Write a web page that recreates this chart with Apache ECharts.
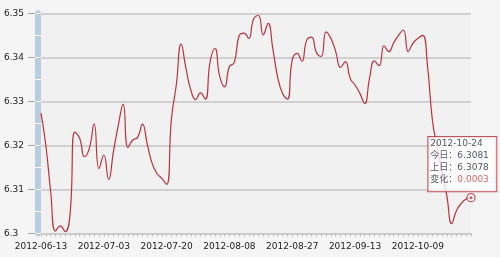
<!DOCTYPE html>
<html><head><meta charset="utf-8">
<script src="https://cdn.jsdelivr.net/npm/echarts/dist/echarts.min.js"></script>
<style>html,body{margin:0;padding:0;background:#f5f5f5}#c{width:500px;height:257px}</style>
</head><body><div id="c"></div>
<script>
const dates = [
'2012-06-13','2012-06-14','2012-06-15','2012-06-18','2012-06-19','2012-06-20','2012-06-21','2012-06-25','2012-06-26','2012-06-27',
'2012-06-28','2012-06-29','2012-07-02','2012-07-03','2012-07-04','2012-07-05','2012-07-06','2012-07-09','2012-07-10','2012-07-11',
'2012-07-12','2012-07-13','2012-07-16','2012-07-17','2012-07-18','2012-07-19','2012-07-20','2012-07-23','2012-07-24','2012-07-25',
'2012-07-26','2012-07-27','2012-07-30','2012-07-31','2012-08-01','2012-08-02','2012-08-03','2012-08-06','2012-08-07','2012-08-08',
'2012-08-09','2012-08-10','2012-08-13','2012-08-14','2012-08-15','2012-08-16','2012-08-17','2012-08-20','2012-08-21','2012-08-22',
'2012-08-23','2012-08-24','2012-08-27','2012-08-28','2012-08-29','2012-08-30','2012-08-31','2012-09-03','2012-09-04','2012-09-05',
'2012-09-06','2012-09-07','2012-09-10','2012-09-11','2012-09-12','2012-09-13','2012-09-14','2012-09-17','2012-09-18','2012-09-19',
'2012-09-20','2012-09-21','2012-09-24','2012-09-25','2012-09-26','2012-09-27','2012-09-28','2012-10-08','2012-10-09','2012-10-10',
'2012-10-11','2012-10-12','2012-10-15','2012-10-16','2012-10-17','2012-10-18','2012-10-19','2012-10-22','2012-10-23','2012-10-24'];

const rates = [
6.3273,6.3200,6.3095,6.3005,6.3017,6.3004,6.3042,6.3230,6.3216,6.3174,
6.3193,6.3249,6.3147,6.3178,6.3122,6.3186,6.3246,6.3293,6.3195,6.3212,
6.3218,6.3248,6.3202,6.3159,6.3136,6.3125,6.3111,6.3261,6.3337,6.3430,
6.3375,6.3326,6.3304,6.3319,6.3305,6.3390,6.3420,6.3356,6.3333,6.3379,
6.3388,6.3449,6.3455,6.3443,6.3487,6.3495,6.3451,6.3477,6.3418,6.3354,
6.3318,6.3305,6.3394,6.3409,6.3391,6.3439,6.3446,6.3411,6.3402,6.3458,
6.3443,6.3413,6.3377,6.3390,6.3352,6.3337,6.3318,6.3295,6.3352,6.3392,
6.3381,6.3426,6.3413,6.3433,6.3450,6.3462,6.3413,6.3432,6.3443,6.3450,
6.3380,6.3258,6.3195,6.3140,6.3085,6.3022,6.3052,6.3068,6.3078,6.3081];

const yMin = 6.30, yMax = 6.35, yStep = 0.01;
const yLabelFmt = v => String(+v.toFixed(2));

const FONT = 'DejaVu Sans, "Noto Sans CJK SC", sans-serif';
const RED = '#b8333d';
const last = rates.length - 1;
const change = (rates[last] - rates[last - 1]).toFixed(4);

const baseY = {type:'value', min:yMin, max:yMax, interval:yStep, position:'left', axisLabel:{show:false}, splitLine:{show:false}, axisLine:{show:false}, axisTick:{show:false}};

const chart = echarts.init(document.getElementById('c'));
chart.setOption({
  animation:false,
  backgroundColor:'#f5f5f5',
  grid:{left:41, right:29, top:13.3, bottom:23.7, show:true, backgroundColor:'#f1f1f1', borderWidth:0, outerBoundsMode:'none', containLabel:false},
  xAxis:{type:'category', data:dates, boundaryGap:false,
    axisLine:{show:true, lineStyle:{color:'#d6d6d6', width:1}},
    axisTick:{show:true, interval:0, length:3, lineStyle:{color:'#b8b8b8', width:1}},
    axisLabel:{interval:12, margin:9, fontSize:9, color:'#222', fontFamily:FONT, hideOverlap:false},
    splitLine:{show:false}},
  yAxis:[
    Object.assign({}, baseY, {offset:6, z:1,
      axisTick:{show:true, length:7, lineStyle:{color:'#a8a8a8', width:1}},
      axisLabel:{show:true, align:'left', margin:31, fontSize:9, color:'#222', fontFamily:FONT, formatter:yLabelFmt},
      splitLine:{show:true, lineStyle:{color:'#c4c4c4', width:1.5}}}),
    Object.assign({}, baseY, {offset:3, z:2,
      axisLine:{show:true, lineStyle:{color:'#b9cce0', width:6}}}),
    Object.assign({}, baseY, {offset:0, z:3,
      axisTick:{show:true, length:6, lineStyle:{color:'#ffffff', width:1}},
      minorTick:{show:true, splitNumber:2, length:6, lineStyle:{color:'#ffffff', width:1}}})
  ],
  series:[
    {type:'line', data:rates, smooth:true, showSymbol:false, symbol:'none',
     lineStyle:{color:RED, width:1.2}, z:3},
    {type:'scatter', data:[[dates[last], rates[last]]], symbol:'circle', symbolSize:8, z:5,
     itemStyle:{color:'#fff', borderColor:RED, borderWidth:1.3},
     label:{show:true, position:[-38,-56], backgroundColor:'#fff', borderColor:'#b0303a', borderWidth:1,
       padding:[1,3,6,2], width:63,
       formatter:`{t|${dates[last]}}\n{t|今日：${rates[last].toFixed(4)}}\n{t|上日：${rates[last-1].toFixed(4)}}\n{t|变化：}{r|${change}}`,
       rich:{t:{fontSize:9, lineHeight:11.8, color:'#2a2f38', fontFamily:FONT},
             r:{fontSize:9, lineHeight:11.8, color:'#e23b3b', fontFamily:FONT}}}},
    {type:'scatter', data:[[dates[last], rates[last]]], symbol:'circle', symbolSize:3, z:6,
     itemStyle:{color:RED}}
  ]
});
</script></body></html>
